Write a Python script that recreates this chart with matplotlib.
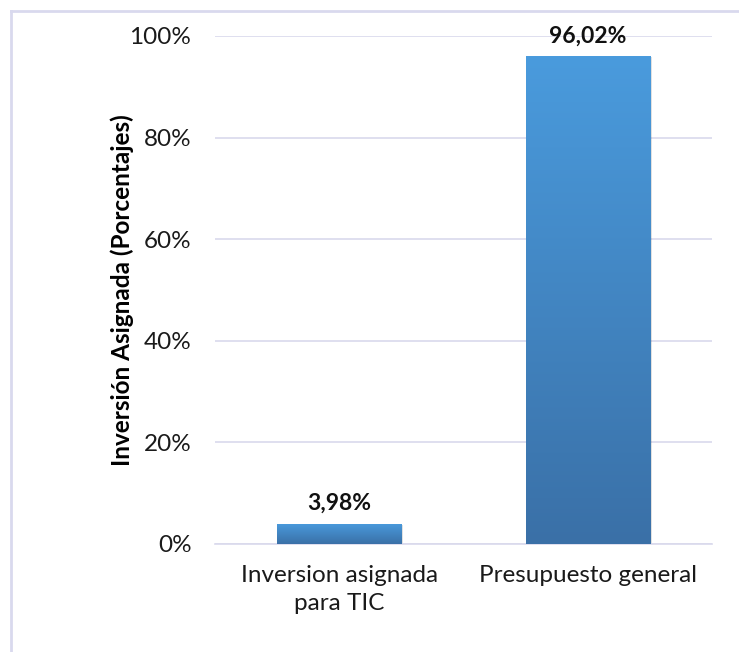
import matplotlib

matplotlib.use("Agg")
import matplotlib.pyplot as plt
import numpy as np
from matplotlib.colors import LinearSegmentedColormap
from matplotlib.lines import Line2D
from matplotlib.ticker import FuncFormatter

categories = ["Inversion asignada\npara TIC", "Presupuesto general"]
values = [3.98, 96.02]
labels = ["3,98%", "96,02%"]
y_ticks = [0, 20, 40, 60, 80, 100]

plt.rcParams["font.family"] = ["Lato", "DejaVu Sans"]

grid_color = "#D9D9EC"
bar_cmap = LinearSegmentedColormap.from_list("bar", ["#3A70A7", "#4A9BDD"])

fig = plt.figure(figsize=(7.39, 6.52), dpi=100)
ax = fig.add_axes([215 / 739, 108 / 652, 497 / 739, 508 / 652])

x = np.arange(len(categories))
bars = ax.bar(x, values, width=0.5, color="none", edgecolor="none", zorder=3)

# gradient fill inside each bar, light at the top and darker toward the base
grad = np.linspace(0, 1, 256).reshape(-1, 1)
for rect in bars:
    x0, w, h = rect.get_x(), rect.get_width(), rect.get_height()
    shadow = plt.Rectangle((x0 + 0.008, -0.3), w, h + 0.1, color="#000000",
                           alpha=0.12, lw=0, zorder=2)
    ax.add_patch(shadow)
    im = ax.imshow(grad, cmap=bar_cmap, aspect="auto", origin="lower",
                   extent=[x0, x0 + w, 0, h], zorder=3)
    im.set_clip_path(rect)

for xi, v, lab in zip(x, values, labels):
    ax.annotate(lab, (xi, v), xytext=(0, 7), textcoords="offset points",
                ha="center", va="bottom", fontsize=16.5, fontweight="bold",
                color="#111111")

ax.set_xlim(-0.5, 1.5)
ax.set_ylim(0, 100)
ax.set_yticks(y_ticks)
ax.yaxis.set_major_formatter(FuncFormatter(lambda v, _: f"{v:.0f}%"))
ax.set_xticks(x)
ax.set_xticklabels(categories, fontsize=17.5, linespacing=1.4)
ax.tick_params(axis="y", length=0, pad=17, labelsize=17.5, labelcolor="#1A1A1A")
ax.tick_params(axis="x", length=0, pad=15, labelcolor="#1A1A1A")
ax.grid(axis="y", color=grid_color, lw=1.2, zorder=0)
ax.set_axisbelow(True)
for side in ["top", "right", "left"]:
    ax.spines[side].set_visible(False)
ax.spines["bottom"].set_color(grid_color)
ax.spines["bottom"].set_linewidth(1.2)

ax.set_ylabel("Inversión Asignada (Porcentajes)", fontsize=17.5, fontweight="bold",
              labelpad=-3)

# chart frame along the left and top edges
fig.add_artist(Line2D([11 / 739, 11 / 739], [0, 1 - 11 / 652],
                      transform=fig.transFigure, color="#D9D9EE", lw=2))
fig.add_artist(Line2D([11 / 739, 1], [1 - 11 / 652, 1 - 11 / 652],
                      transform=fig.transFigure, color="#D9D9EE", lw=2))

fig.savefig("out.png", dpi=100)
